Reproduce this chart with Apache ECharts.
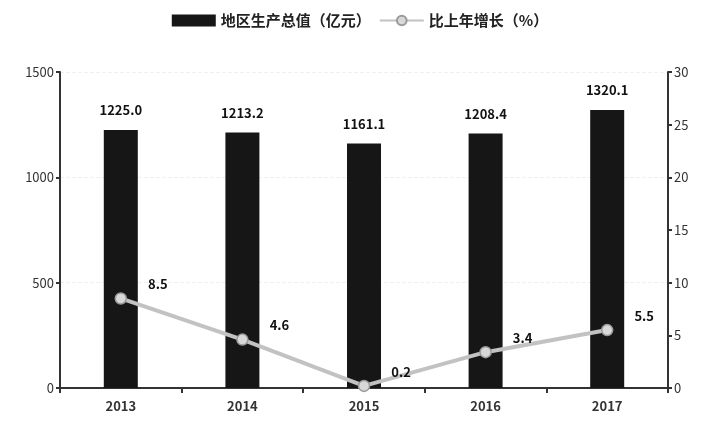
<!DOCTYPE html>
<html><head><meta charset="utf-8">
<script src="https://cdn.jsdelivr.net/npm/echarts@6/dist/echarts.min.js"></script>
<style>html,body{margin:0;padding:0;background:#fff}#c{width:720px;height:437px}</style>
</head><body><div id="c"></div>
<script>
const categories = ['2013','2014','2015','2016','2017'];
const gdpValues = [1225.0, 1213.2, 1161.1, 1208.4, 1320.1];
const growthValues = [8.5, 4.6, 0.2, 3.4, 5.5];
const leftTicks = {min:0, max:1500, interval:500};
const rightTicks = {min:0, max:30, interval:5};
const seriesNames = ['地区生产总值（亿元）', '比上年增长（%）'];

const font = '"Noto Sans CJK SC","Noto Sans",sans-serif';
const chart = echarts.init(document.getElementById('c'));
chart.setOption({
  animation:false,
  backgroundColor:'#fff',
  textStyle:{fontFamily:font},
  legend:{
    top:8, left:'center', itemGap:8, itemWidth:44, itemHeight:12,
    textStyle:{fontSize:15, color:'#222', fontWeight:'bold', fontFamily:font},
    data:[{name:seriesNames[0], icon:'rect'}, {name:seriesNames[1]}]
  },
  grid:{left:60, right:52, top:72, bottom:49},
  xAxis:{
    type:'category', data:categories,
    axisLine:{lineStyle:{color:'#333', width:2}},
    axisTick:{show:true, length:5, lineStyle:{color:'#333', width:2}},
    axisLabel:{color:'#333', fontSize:13, fontWeight:'bold', margin:12, fontFamily:font}
  },
  yAxis:[
    {type:'value', min:leftTicks.min, max:leftTicks.max, interval:leftTicks.interval,
     axisLine:{show:true, lineStyle:{color:'#333', width:2}},
     axisTick:{show:true, length:4, lineStyle:{color:'#333', width:2}},
     axisLabel:{color:'#333', fontSize:13, margin:6, fontFamily:font, formatter:v=>String(v)},
     splitLine:{show:true, lineStyle:{color:'#f0f0f0', type:'dashed'}}},
    {type:'value', min:rightTicks.min, max:rightTicks.max, interval:rightTicks.interval,
     axisLine:{show:true, lineStyle:{color:'#333', width:2}},
     axisTick:{show:true, length:4, lineStyle:{color:'#333', width:2}},
     axisLabel:{color:'#333', fontSize:13, margin:6, fontFamily:font, formatter:v=>String(v)},
     splitLine:{show:false}}
  ],
  series:[
    {name:seriesNames[0], type:'bar', data:gdpValues, barWidth:34,
     itemStyle:{color:'#161616'},
     label:{show:true, position:'top', distance:13, color:'#111', fontSize:13, fontWeight:'bold',
       formatter:p=>p.value.toFixed(1)}},
    {name:seriesNames[1], type:'line', yAxisIndex:1, data:growthValues,
     symbol:'circle', symbolSize:11,
     lineStyle:{color:'#c2c2c2', width:4},
     itemStyle:{color:'#d8d8d8', borderColor:'#9a9a9a', borderWidth:1.5},
     label:{show:true, position:'right', distance:21, offset:[0,-14], color:'#111', fontSize:13, fontWeight:'bold',
       formatter:p=>p.value.toFixed(1)}}
  ]
});
</script></body></html>
